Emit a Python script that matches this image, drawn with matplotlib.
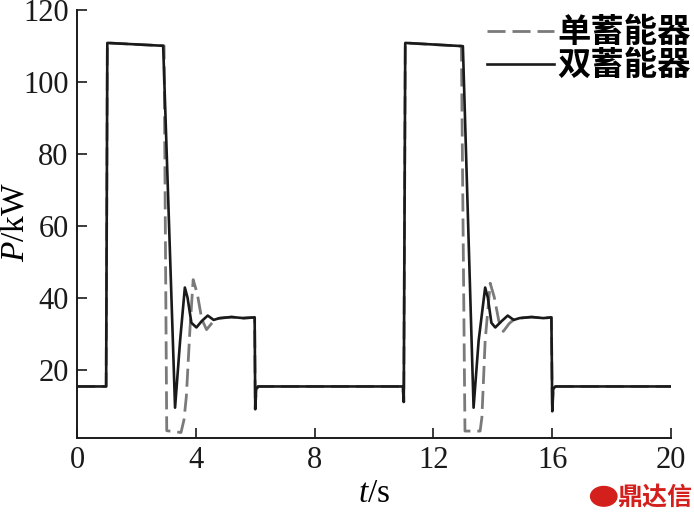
import matplotlib.pyplot as plt
from matplotlib.patches import Circle

# 双蓄能器 (solid)
t_dual = [0, 0.98, 1.02, 2.9, 3.3, 3.47, 3.63, 3.72, 3.85, 4.02, 4.2, 4.4, 4.6, 4.8, 5.2, 5.6, 5.98,
          6.0, 6.03, 6.1, 10.97, 11.0, 11.05, 12.99, 13.35, 13.52, 13.74, 13.83, 13.95, 14.08, 14.3,
          14.5, 14.7, 14.9, 15.3, 15.7, 15.97, 16.0, 16.03, 16.1, 20]
p_dual = [15.3, 15.3, 110.8, 110.0, 9.4, 28, 42.8, 40, 33, 31.7, 33.5, 35, 33.8, 34.3, 34.6, 34.3, 34.5,
          9, 14.5, 15.3, 15.3, 11, 110.8, 109.9, 9.4, 28, 42.8, 40, 33, 31.7, 33.5,
          35, 33.8, 34.3, 34.6, 34.3, 34.5, 8.4, 14.5, 15.3, 15.3]

# 单蓄能器 (dashed)
t_single = [0, 0.98, 1.02, 2.93, 3.02, 3.5, 3.6, 3.68, 3.8, 3.91, 4.05, 4.2, 4.36, 4.55, 4.75, 5.2,
            5.6, 5.98, 6.0, 6.03, 6.1, 10.97, 11.0, 11.05, 12.94, 13.06, 13.57, 13.63, 13.74, 13.91,
            14.05, 14.2, 14.35, 14.55, 14.75, 15.3, 15.7, 15.97, 16.0, 16.03, 16.1, 20]
p_single = [15.3, 15.3, 110.8, 110.0, 3, 2.5, 6, 12.5, 31, 45, 41, 34, 31.1, 33, 34.2, 34.6,
            34.3, 34.5, 9, 14.5, 15.3, 15.3, 11, 110.8, 109.9, 2.9, 2.9, 6.7, 28, 44,
            40, 33.5, 30.6, 32.8, 34.2, 34.6, 34.3, 34.5, 8.4, 14.5, 15.3, 15.3]

xticks = [0, 4, 8, 12, 16, 20]
yticks = [20, 40, 60, 80, 100, 120]

plt.rcParams['font.family'] = ['Liberation Serif', 'Noto Sans CJK SC']
plt.rcParams['mathtext.fontset'] = 'custom'
plt.rcParams['mathtext.it'] = 'Liberation Serif:italic'
plt.rcParams['mathtext.rm'] = 'Liberation Serif'

fig = plt.figure(figsize=(6.94, 5.17), dpi=100)
ax = fig.add_axes([0.111, 0.153, 0.856, 0.828])

ax.plot(t_single, p_single, color='#7a7a7a', lw=2.0, dashes=(6.5, 2.5), label='单蓄能器', zorder=2)
ax.plot(t_dual, p_dual, color='#1a1a1a', lw=1.9, label='双蓄能器', zorder=3)

ax.set_xlim(0, 20)
ax.set_ylim(1, 120)
ax.set_xticks(xticks)
ax.set_yticks(yticks)
ax.tick_params(direction='in', length=7, width=1.2, labelsize=22, colors='#1a1a1a')
ax.tick_params(axis='x', pad=6)
ax.tick_params(axis='y', pad=6)
for s in ['top', 'right']:
    ax.spines[s].set_visible(False)
for s in ['left', 'bottom']:
    ax.spines[s].set_linewidth(1.4)
    ax.spines[s].set_color('#1a1a1a')

ax.set_xlabel('$t$/s', fontsize=24)
ax.xaxis.set_label_coords(0.5, -0.095)
ax.set_ylabel('$P$/kW', fontsize=24)
ax.yaxis.set_label_coords(-0.079, 0.505)

leg = ax.legend(loc='upper right', bbox_to_anchor=(1.084, 1.055), frameon=False,
                prop={'family': 'Noto Sans CJK SC', 'weight': 'bold', 'size': 24},
                handlelength=2.0, handletextpad=0.1, labelspacing=0.0)

# watermark
fig.patches.append(Circle((0.87, 0.04), 0.019, transform=fig.transFigure, color='#d4201c'))
fig.text(0.997, 0.015, '鼎达信', color='#d4201c', fontsize=18, ha='right', va='bottom',
         fontfamily='Noto Sans CJK SC', fontweight='bold')

fig.savefig('out.png', dpi=100)
